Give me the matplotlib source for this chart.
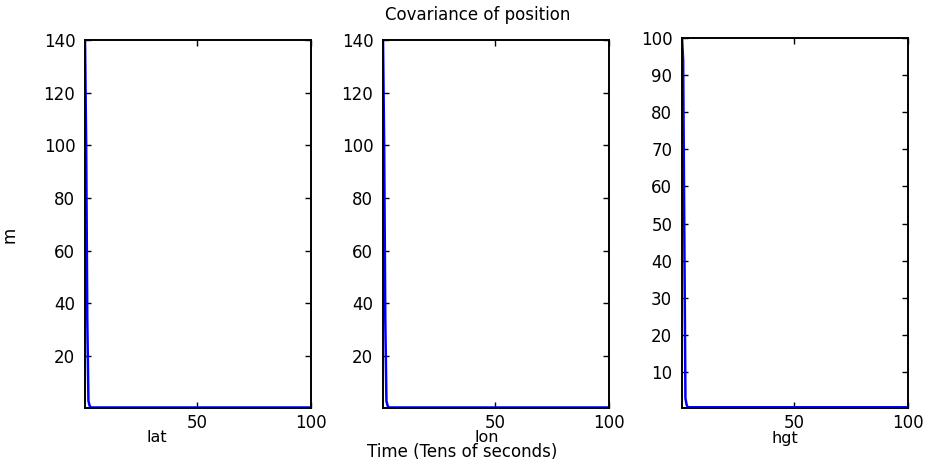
import numpy as np
import matplotlib
matplotlib.use("Agg")
import matplotlib.pyplot as plt

# time axis (tens of seconds), sampled every half unit
t = np.arange(1, 100.5, 0.5)

lat_head = [140, 101, 34, 3, 1.2]
lon_head = [140, 101, 34, 3, 1.2]
hgt_head = [100, 94, 48, 3, 1.2]
tail_value = 0.5

lat = np.array(lat_head + [tail_value] * (len(t) - len(lat_head)))
lon = np.array(lon_head + [tail_value] * (len(t) - len(lon_head)))
hgt = np.array(hgt_head + [tail_value] * (len(t) - len(hgt_head)))

names = ["lat", "lon", "hgt"]
series = [lat, lon, hgt]
yticks = [[20, 40, 60, 80, 100, 120, 140],
          [20, 40, 60, 80, 100, 120, 140],
          [10, 20, 30, 40, 50, 60, 70, 80, 90, 100]]
xticks = [50, 100]

W, H = 927, 461
fig = plt.figure(figsize=(W / 100, H / 100), dpi=100)
plt.rcParams['font.family'] = ['DejaVu Sans']

# axes boxes in pixels: left, top, right, bottom
boxes = [(85, 40, 311, 408), (383, 40, 609, 408), (682, 38, 908, 408)]
label_xy = [(157, 437), (487, 437), (785, 438)]

for i in range(3):
    l, tp, r, b = boxes[i]
    ax = fig.add_axes([l / W, 1 - b / H, (r - l) / W, (b - tp) / H])
    ax.plot(t, series[i], color=(0, 0, 1), lw=1.8)
    ax.set_xlim(1, 100)
    ax.set_ylim(0.3, series[i].max())
    ax.set_xticks(xticks)
    ax.set_yticks(yticks[i])
    ax.tick_params(direction='in', length=4, width=1, top=True, right=True,
                   labelsize=12, colors='black')
    ax.tick_params(axis='y', pad=7)
    ax.tick_params(axis='x', pad=4)
    for s in ax.spines.values():
        s.set_linewidth(1.4)
    lx, ly = label_xy[i]
    ax.set_xlabel(names[i], fontsize=11.5)
    ax.xaxis.set_label_coords((lx - l) / (r - l), (b - ly) / (b - tp))
    ax.xaxis.label.set_va('center')

fig.text(478 / W, 1 - 15 / H, "Covariance of position", ha='center', va='center', fontsize=12)
fig.text(10 / W, 1 - 235 / H, "m", ha='center', va='center', rotation=90, fontsize=12)
fig.text(462 / W, 1 - 452 / H, "Time (Tens of seconds)", ha='center', va='center', fontsize=12)

fig.savefig("out.png", dpi=100)
